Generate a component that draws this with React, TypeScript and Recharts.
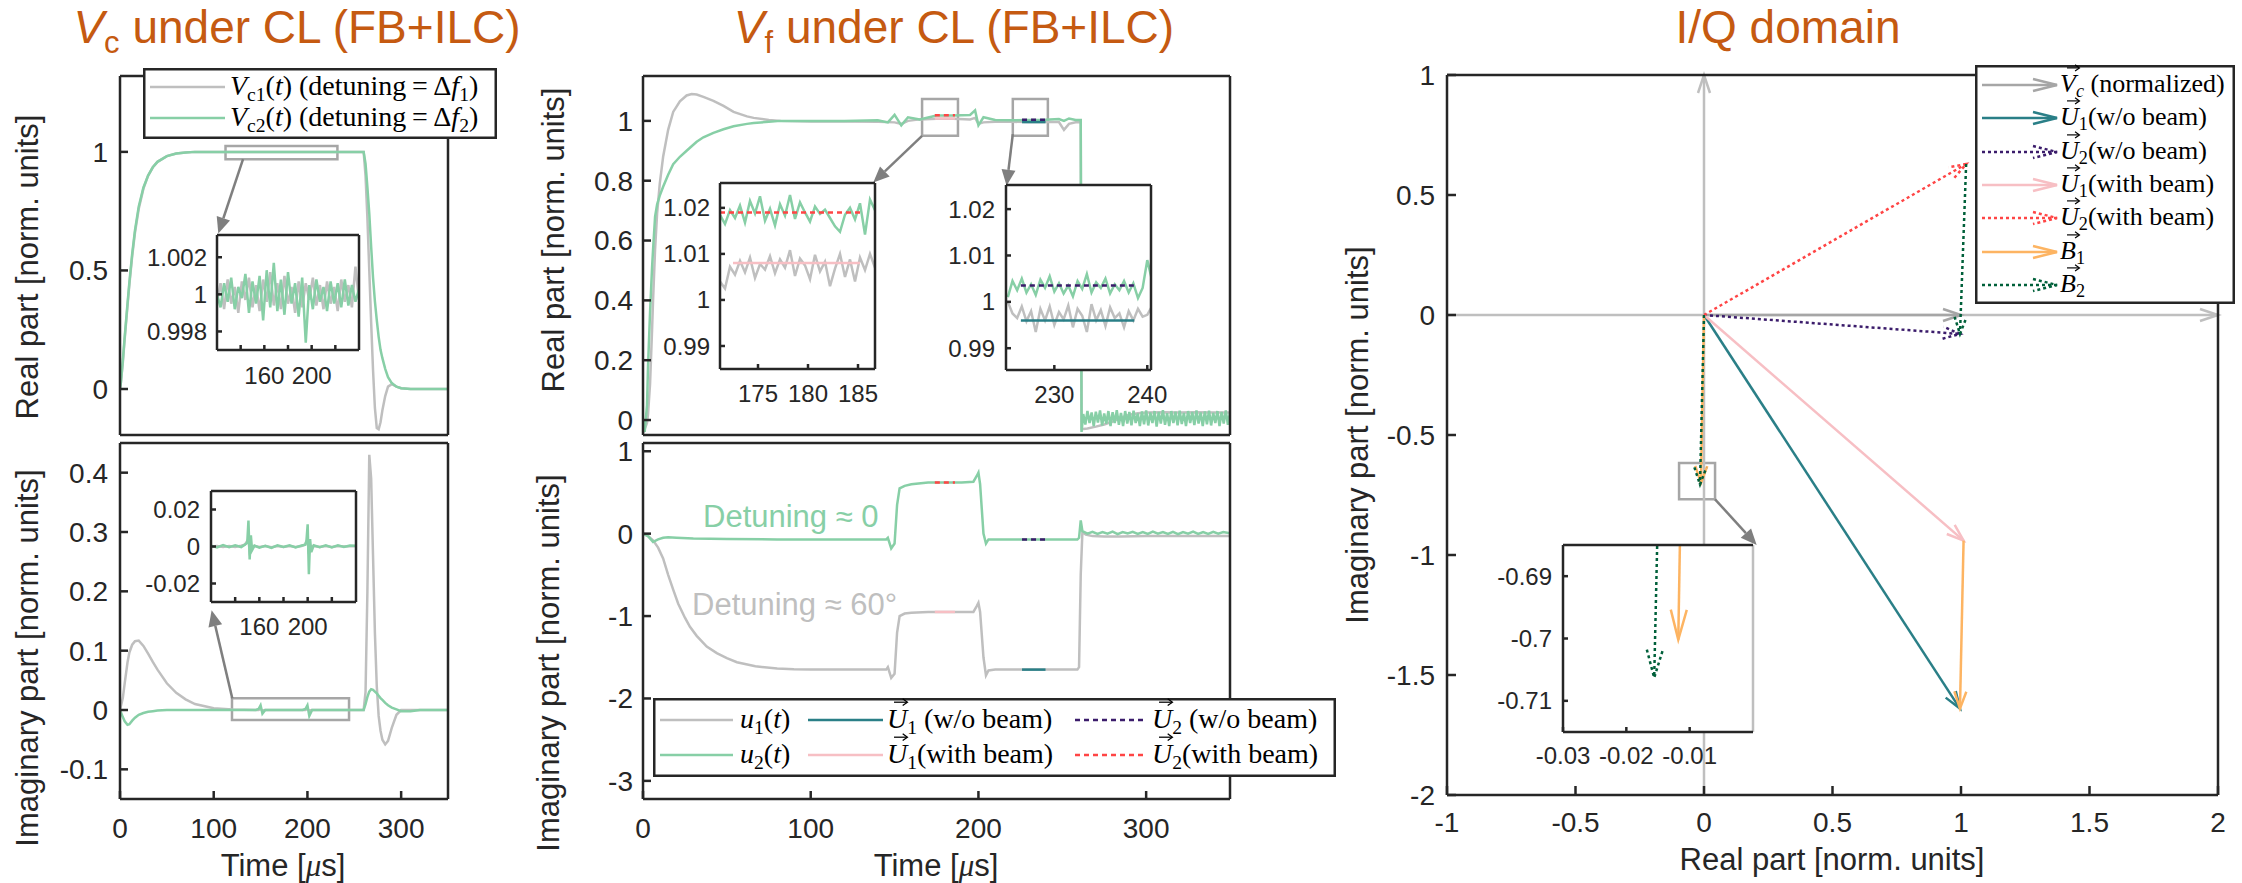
import React from "react";
import { LineChart, Line, XAxis, YAxis, ReferenceLine, ReferenceArea } from "recharts";

const INK = "#262626";
const SANS = "'Liberation Sans', Arial, Helvetica, sans-serif";
const SERIF = "'Liberation Serif', 'Times New Roman', serif";
const TITLE = "#C55A11";
const GREY = "#BFBFBF";
const GREEN = "#87CFA6";
const TEAL = "#2A7F87";
const PURPLE = "#3B1C6B";
const PINK = "#F7BFC4";
const RED = "#FF4545";
const ORANGE = "#FDB462";
const DKGREEN = "#00603A";
const VCGREY = "#A6A6A6";
const BOXGREY = "#A6A6A6";
const POINTER = "#7F7F7F";

// ---------- ticks ----------
const timeTicks = [0, 100, 200, 300];
const vcReTicks = [0, 0.5, 1];
const vcImTicks = [-0.1, 0, 0.1, 0.2, 0.3, 0.4];
const vfReTicks = [0, 0.2, 0.4, 0.6, 0.8, 1];
const uTicks = [-3, -2, -1, 0, 1];
const iqXTicks = [-1, -0.5, 0, 0.5, 1, 1.5, 2];
const iqYTicks = [-2, -1.5, -1, -0.5, 0, 0.5, 1];
const insTimeTicks = [140, 160, 180, 200, 220];
const insTimeLabels = [160, 200];
const insAYTicks = [0.998, 1, 1.002];
const insBYTicks = [-0.02, 0, 0.02];
const insC1XTicks = [175, 180, 185];
const insC2XTicks = [230, 240];
const insCYTicks = [0.99, 1, 1.01, 1.02];
const insEXTicks = [-0.03, -0.02, -0.01];
const insEYTicks = [-0.71, -0.7, -0.69];

// ---------- V_c real part ----------
const tA = [0, 1, 3, 5, 8, 10, 13, 16, 20, 25, 30, 35, 40, 50, 60, 70, 80, 100, 150, 200, 258, 260, 262, 264, 266, 268, 270, 272, 274, 276, 278, 280, 283, 286, 290, 295, 300, 310, 320, 350];
const vc1Re = [0, 0.03, 0.11, 0.21, 0.35, 0.44, 0.56, 0.66, 0.76, 0.845, 0.9, 0.935, 0.958, 0.982, 0.993, 0.997, 1, 1, 1, 1, 1, 1, 0.9, 0.72, 0.5, 0.28, 0.08, -0.08, -0.165, -0.17, -0.14, -0.09, -0.03, 0.01, 0.02, 0.01, 0.003, 0, 0, 0];
const vc2Re = [0, 0.03, 0.12, 0.22, 0.36, 0.45, 0.57, 0.67, 0.77, 0.85, 0.9, 0.935, 0.958, 0.982, 0.993, 0.997, 1, 1, 1, 1, 1, 1, 0.95, 0.85, 0.74, 0.6, 0.47, 0.37, 0.29, 0.22, 0.165, 0.13, 0.085, 0.05, 0.025, 0.01, 0.003, 0, 0, 0];

// ---------- V_c imaginary part ----------
const tB = [0, 3, 5, 8, 10, 13, 16, 20, 25, 30, 35, 40, 50, 60, 70, 80, 100, 120, 145, 148, 150, 152, 155, 195, 198, 200, 202, 205, 240, 258, 260, 262, 264, 266, 268, 270, 272, 274, 276, 278, 280, 283, 286, 290, 295, 300, 310, 320, 335, 350];
const vc1Im = [0, 0.02, 0.045, 0.08, 0.097, 0.11, 0.116, 0.117, 0.108, 0.095, 0.081, 0.068, 0.045, 0.029, 0.018, 0.01, 0.003, 0.001, 0, 0, 0.002, -0.001, 0, 0, 0, 0.002, -0.001, 0, 0, 0, 0, 0.03, 0.2, 0.43, 0.39, 0.26, 0.13, 0.04, -0.01, -0.035, -0.05, -0.058, -0.052, -0.03, -0.008, 0, 0, 0, 0, 0];
const vc2Im = [0, -0.012, -0.019, -0.025, -0.024, -0.018, -0.013, -0.008, -0.005, -0.003, -0.002, -0.001, 0, 0, 0, 0, 0, 0, 0, 0.002, 0.008, -0.006, 0, 0, 0.002, 0.008, -0.01, 0, 0, 0, 0, 0.01, 0.022, 0.031, 0.035, 0.034, 0.031, 0.028, 0.024, 0.02, 0.017, 0.012, 0.008, 0.004, 0.001, -0.002, -0.002, 0, 0, 0];

// ---------- V_c insets ----------
const tAi = [120, 123, 126, 129, 132, 135, 138, 141, 144, 147, 150, 153, 156, 159, 162, 165, 168, 171, 174, 177, 180, 183, 186, 189, 192, 195, 198, 201, 204, 207, 210, 213, 216, 219, 222, 225, 228, 231, 234, 237, 240];
const vc1ReZoom = [0.9996, 1.0006, 0.9992, 1.0008, 0.9995, 1.0004, 0.999, 1.0007, 0.9997, 1.0009, 0.9993, 1.0005, 0.9991, 1.0008, 0.9996, 1.0012, 0.9994, 1.0006, 0.9992, 1.001, 0.9995, 1.0004, 0.999, 1.0007, 0.9993, 1.0006, 0.9997, 1.0009, 0.9994, 1.0005, 0.9992, 1.0007, 0.9995, 1.0004, 0.9991, 1.0008, 0.9996, 1.0005, 0.9993, 1.0015, 0.9997];
const vc2ReZoom = [1.0, 0.9993, 1.0006, 0.9996, 1.0009, 0.9992, 1.0004, 0.9998, 1.0011, 0.999, 1.0007, 0.9995, 1.001, 0.9986, 1.0013, 0.9993, 1.0017, 0.9991, 1.0008, 0.9989, 1.0012, 0.9995, 1.0006, 0.9988, 1.0009, 0.9974, 1.0005, 0.9992, 1.0008, 0.9996, 1.0004, 0.9991, 1.0007, 0.9995, 1.0006, 0.9993, 1.0008, 0.9994, 1.0005, 0.9996, 1.0003];
const tBi = [120, 125, 130, 135, 140, 145, 148, 150, 151, 152, 153, 154, 156, 160, 165, 170, 175, 180, 185, 190, 195, 198, 199, 200, 201, 202, 203, 205, 210, 215, 220, 225, 230, 235, 240];
const vc1ImZoom = [0, 0.0003, -0.0003, 0.0002, -0.0002, 0.0004, 0.001, 0.003, 0.004, -0.003, -0.002, 0, 0.0002, -0.0003, 0.0002, -0.0004, 0.0003, -0.0002, 0.0003, -0.0002, 0.0003, 0.001, 0.003, 0.004, -0.004, -0.002, 0, 0.0002, -0.0003, 0.0002, -0.0002, 0.0003, 0, 0.0002, 0.0001];
const vc2ImZoom = [0.0005, -0.0005, 0.0008, -0.0004, 0.0006, -0.0003, 0.001, 0.002, 0.014, -0.007, 0.006, -0.002, 0.0005, -0.0006, 0.0004, -0.0008, 0.0006, -0.0002, 0.0007, -0.0005, 0.0005, 0.001, 0.003, 0.012, -0.015, 0.004, -0.003, 0.0006, -0.0004, 0.0007, -0.0005, 0.0006, -0.0003, 0.0005, 0.0004];

// ---------- V_f real part ----------
const tC1 = [0, 1, 2.4, 3, 4.2, 5.4, 6, 7.2, 8.4, 10, 12, 15, 18, 22, 26, 29, 32, 36, 42, 48, 54, 62, 66, 75, 82, 100, 120, 140, 150, 154, 158, 165, 175, 185, 195, 198, 200, 203, 210, 220, 230, 240, 248, 251, 254, 258, 261, 261.5, 262.5, 265, 270, 275, 280, 285, 290, 295, 300, 310, 320, 330, 340, 350];
const vf1Re = [0, -0.03, -0.01, 0.02, 0.12, 0.3, 0.4, 0.57, 0.69, 0.79, 0.88, 0.97, 1.03, 1.065, 1.085, 1.09, 1.088, 1.08, 1.067, 1.05, 1.03, 1.015, 1.01, 1.003, 1, 0.998, 0.998, 0.997, 0.995, 0.99, 1, 1.005, 1.007, 1.007, 1.005, 1.01, 0.99, 0.995, 0.997, 0.997, 0.996, 0.996, 0.996, 0.97, 0.99, 0.995, 0.995, -0.03, -0.03, -0.028, -0.022, -0.015, -0.005, 0.008, 0.018, 0.023, 0.025, 0.026, 0.025, 0.026, 0.025, 0.025];
const tC2 = [0, 1, 2.4, 3, 4.2, 5.4, 6, 7.2, 8.4, 10, 12, 15, 18, 22, 26, 29, 32, 36, 42, 48, 54, 62, 66, 75, 82, 100, 120, 140, 146, 150, 154, 158, 165, 175, 185, 195, 198, 200, 203, 210, 220, 230, 240, 248, 251, 254, 258, 261, 261.5,
  262.5, 263.75, 265, 266.25, 267.5, 268.75, 270, 271.25, 272.5, 273.75, 275, 276.25, 277.5, 278.75, 280, 281.25, 282.5, 283.75, 285, 286.25, 287.5, 288.75, 290, 291.25, 292.5, 293.75, 295, 296.25, 297.5, 298.75, 300, 301.25, 302.5, 303.75, 305, 306.25, 307.5, 308.75, 310, 311.25, 312.5, 313.75, 315, 316.25, 317.5, 318.75, 320, 321.25, 322.5, 323.75, 325, 326.25, 327.5, 328.75, 330, 331.25, 332.5, 333.75, 335, 336.25, 337.5, 338.75, 340, 341.25, 342.5, 343.75, 345, 346.25, 347.5, 348.75, 350];
const vf2Re = [0, -0.04, 0.05, 0.18, 0.36, 0.51, 0.57, 0.68, 0.72, 0.75, 0.78, 0.82, 0.855, 0.88, 0.9, 0.915, 0.93, 0.945, 0.96, 0.972, 0.982, 0.99, 0.993, 0.997, 1, 1, 1, 1.002, 0.995, 1.02, 0.985, 1.012, 1.005, 1.018, 1.018, 1.02, 1.035, 0.985, 1.012, 1.003, 1.002, 1.003, 1.004, 1.006, 1, 1.008, 1.003, 1.003, -0.04,
  0.02, -0.015, 0.03, -0.01, 0.025, -0.02, 0.028, -0.008, 0.032, -0.018, 0.022, -0.012, 0.03, -0.02, 0.026, -0.01, 0.033, -0.016, 0.024, -0.02, 0.03, -0.012, 0.027, -0.018, 0.031, -0.01, 0.022, -0.02, 0.029, -0.014, 0.032, -0.018, 0.025, -0.01, 0.03, -0.022, 0.027, -0.012, 0.033, -0.016, 0.023, -0.02, 0.03, -0.01, 0.028, -0.018, 0.031, -0.013, 0.024, -0.02, 0.03, -0.01, 0.027, -0.017, 0.032, -0.012, 0.025, -0.02, 0.029, -0.014, 0.031, -0.018, 0.024, -0.01, 0.03, -0.02, 0.027, -0.012, 0.032, -0.016, 0.025];

// beam windows and ILC input levels
const beamOn = [174, 186];
const beamOff = [226, 240];
const vfU1With = [1.008, 1.008];
const vfU2With = [1.019, 1.019];
const vfU1Without = [0.996, 0.996];
const vfU2Without = [1.0035, 1.0035];

// ---------- V_f insets ----------
const tC1i = [171.2, 171.7, 172.2, 172.7, 173.2, 173.7, 174.2, 174.7, 175.2, 175.7, 176.2, 176.7, 177.2, 177.7, 178.2, 178.7, 179.2, 179.7, 180.2, 180.7, 181.2, 181.7, 182.2, 182.7, 183.2, 183.7, 184.2, 184.7, 185.2, 185.7, 186.2, 186.7];
const vf1ReZoomOn = [1.004, 1.0025, 1.0072, 1.0055, 1.0085, 1.006, 1.0092, 1.0048, 1.0078, 1.0066, 1.0095, 1.0058, 1.0088, 1.007, 1.0108, 1.0052, 1.009, 1.0075, 1.0045, 1.0098, 1.0062, 1.0083, 1.003, 1.0068, 1.01, 1.005, 1.0088, 1.004, 1.0092, 1.0065, 1.01, 1.007];
const vf2ReZoomOn = [1.0185, 1.0165, 1.0195, 1.0178, 1.0205, 1.0168, 1.0215, 1.0188, 1.0225, 1.0172, 1.0198, 1.0162, 1.0208, 1.0183, 1.0228, 1.0176, 1.0212, 1.019, 1.017, 1.0203, 1.0187, 1.0196, 1.0178, 1.016, 1.0148, 1.0185, 1.02, 1.0175, 1.021, 1.0142, 1.0218, 1.0195];
const zoomOnRed = [171.2, 185.2];
const zoomOnPink = [172.5, 185.2];
const tC2i = [225, 225.5, 226, 226.5, 227, 227.5, 228, 228.5, 229, 229.5, 230, 230.5, 231, 231.5, 232, 232.5, 233, 233.5, 234, 234.5, 235, 235.5, 236, 236.5, 237, 237.5, 238, 238.5, 239, 239.5, 240, 240.5];
const vf1ReZoomOff = [1.0, 0.9975, 0.9965, 0.999, 0.9958, 0.998, 0.9935, 0.9985, 0.996, 0.999, 0.995, 0.9978, 0.9962, 0.9992, 0.9945, 0.9985, 0.997, 0.9935, 0.9995, 0.996, 0.9982, 0.9948, 0.9988, 0.9965, 0.9975, 0.9945, 0.998, 0.996, 0.9985, 0.9968, 0.9972, 0.999];
const vf2ReZoomOff = [1.001, 1.0045, 1.0025, 1.005, 1.002, 1.0038, 1.0015, 1.0048, 1.003, 1.0055, 1.0022, 1.004, 1.0018, 1.0035, 1.0012, 1.0045, 1.0028, 1.006, 1.002, 1.0042, 1.003, 1.005, 1.0018, 1.0038, 1.0025, 1.0045, 1.002, 1.004, 1.0008, 1.003, 1.009, 1.0048];
const zoomOffSpan = [226.4, 238.6];

// ---------- drive signal u (imaginary part) ----------
const tD1 = [0, 3, 6, 9, 12, 15, 18, 21, 25, 28, 32, 38, 44, 50, 56, 67, 80, 90, 100, 120, 145, 146, 148, 150, 151.5, 153, 156, 160, 170, 190, 197, 199, 200, 201, 203, 204.5, 206, 210, 230, 250, 259, 260, 261, 262, 264, 268, 275, 285, 300, 320, 350];
const u1Im = [0, -0.03, -0.08, -0.17, -0.3, -0.5, -0.68, -0.85, -1.02, -1.13, -1.24, -1.37, -1.45, -1.51, -1.56, -1.61, -1.635, -1.645, -1.65, -1.65, -1.65, -1.62, -1.75, -1.7, -1.2, -1.0, -0.97, -0.96, -0.95, -0.95, -0.95, -0.88, -0.84, -0.95, -1.5, -1.72, -1.66, -1.65, -1.65, -1.65, -1.65, -1.62, -0.5, 0.02, -0.01, -0.03, -0.035, -0.035, -0.03, -0.03, -0.03];
const tD2 = [0, 3, 6, 9, 12, 15, 20, 30, 50, 80, 120, 145, 146, 148, 150, 151.5, 153, 156, 160, 170, 190, 197, 199, 200, 201, 203, 204.5, 206, 210, 230, 250, 259, 260, 261, 262, 265, 268, 271, 274, 277, 280, 283, 286, 289, 292, 295, 298, 301, 304, 307, 310, 313, 316, 319, 322, 325, 328, 331, 334, 337, 340, 343, 346, 350];
const u2Im = [0, -0.03, -0.1, -0.07, -0.05, -0.045, -0.05, -0.06, -0.065, -0.07, -0.07, -0.07, -0.05, -0.18, -0.12, 0.35, 0.55, 0.58, 0.6, 0.62, 0.62, 0.63, 0.7, 0.74, 0.6, 0, -0.12, -0.07, -0.07, -0.07, -0.07, -0.07, -0.05, 0.16,
  0.03, 0, 0.022, -0.004, 0.02, 0, 0.024, -0.006, 0.02, 0.002, 0.022, -0.004, 0.02, -0.002, 0.024, 0, 0.02, -0.004, 0.022, -0.006, 0.02, 0, 0.024, -0.004, 0.02, -0.002, 0.022, 0, 0.02, 0.005];
const uU1With = [-0.95, -0.95];
const uU2With = [0.62, 0.62];
const uU1Without = [-1.65, -1.65];
const uU2Without = [-0.07, -0.07];

// ---------- I/Q vectors [x0, y0, x1, y1] ----------
const iqAxisI = [-1, 0, 2, 0];
const iqAxisQ = [0, -2, 0, 1];
const vcVec = [0, 0, 1, 0];
const u1NoBeam = [0, 0, 0.996, -1.64];
const u2NoBeam = [0, 0, 0.996, -0.079];
const u1Beam = [0, 0, 1.01, -0.94];
const u2Beam = [0, 0, 1.02, 0.629];
const b1Vec = [0, 0, -0.0118, -0.7002];
const b2Vec = [0, 0, -0.0156, -0.7063];
const b1Shift = [1.01, -0.94, 0.996, -1.64];
const b2Shift = [1.02, 0.629, 0.996, -0.079];

// ---------- zoom boxes [x1, x2, y1, y2] and pointers [x0, y0, x1, y1] ----------
const zoomA = [112.6, 232, 0.969, 1.025];
const ptrA = [131.3, 0.969, 104.9, 0.656];
const zoomB = [119.5, 244.4, -0.017, 0.02];
const ptrB = [119.8, 0.0196, 97.8, 0.168];
const zoomC1 = [166.4, 187.8, 0.95, 1.073];
const ptrC1 = [166.4, 0.95, 137.3, 0.794];
const zoomC2 = [220.5, 241.4, 0.95, 1.073];
const ptrC2 = [220.5, 0.956, 216.8, 0.783];
const zoomE = [-0.097, 0.043, -0.768, -0.617];
const ptrE = [0.043, -0.768, 0.205, -0.958];

const zip = (t: number[], v: number[]) => t.map((x, i) => ({ t: x, v: v[i] }));
const seg = (s: number[]) => [{ x: s[0], y: s[1] }, { x: s[2], y: s[3] }] as any;

const openArrow = (head: number, half: number) => (p: any) => {
  const { x1, y1, x2, y2, stroke, strokeWidth, strokeDasharray, clipPath } = p;
  const dx = x2 - x1, dy = y2 - y1;
  const L = Math.hypot(dx, dy) || 1;
  const ux = dx / L, uy = dy / L;
  const bx = x2 - ux * head, by = y2 - uy * head;
  return (
    <g clipPath={clipPath}>
      <line x1={x1} y1={y1} x2={x2} y2={y2} stroke={stroke} strokeWidth={strokeWidth} strokeDasharray={strokeDasharray} />
      <polyline points={`${bx - uy * half},${by + ux * half} ${x2},${y2} ${bx + uy * half},${by - ux * half}`} fill="none" stroke={stroke} strokeWidth={strokeWidth} strokeDasharray={strokeDasharray} />
    </g>
  );
};

const pointer = (p: any) => {
  const { x1, y1, x2, y2 } = p;
  const dx = x2 - x1, dy = y2 - y1;
  const L = Math.hypot(dx, dy) || 1;
  const ux = dx / L, uy = dy / L;
  const head = 16, half = 7;
  const bx = x2 - ux * head, by = y2 - uy * head;
  return (
    <g>
      <line x1={x1} y1={y1} x2={bx} y2={by} stroke={POINTER} strokeWidth={2.5} />
      <polygon points={`${bx - uy * half},${by + ux * half} ${x2},${y2} ${bx + uy * half},${by - ux * half}`} fill={POINTER} />
    </g>
  );
};

type Frame = {
  x: number; y: number; w: number; h: number;
  xd: number[]; yd: number[];
  xt: number[]; yt: number[];
  xl: number[] | null; yl: number[] | null;
  fs: number; tl: number; xm: number; ym: number;
  pad: { top: number; right: number; bottom: number; left: number };
  inset?: boolean; noRightLine?: boolean;
};

const MAINPAD = { top: 20, right: 20, bottom: 60, left: 115 };
const INSPAD = { top: 10, right: 34, bottom: 45, left: 90 };

function Panel({ f, children }: { f: Frame; children?: React.ReactNode }) {
  const W = f.w + f.pad.left + f.pad.right;
  const H = f.h + f.pad.top + f.pad.bottom;
  // axes take 1px each, so the margins shrink by 1 to keep the plot box in place
  const margin = { top: f.pad.top - 1, right: f.pad.right - 1, bottom: f.pad.bottom - 1, left: f.pad.left - 1 };
  const tick = { fill: INK, fontSize: f.fs, fontFamily: SANS };
  const fmt = (l: number[] | null) => (v: number) => (l && l.includes(v) ? String(v) : "");
  const ax: any = { type: "number", allowDataOverflow: true, interval: 0, stroke: INK, strokeWidth: 2.5, tickSize: -f.tl };
  return (
    <>
      {f.inset && <div style={{ position: "absolute", left: f.x, top: f.y, width: f.w, height: f.h, background: "#fff" }} />}
      <div style={{ position: "absolute", left: f.x - f.pad.left, top: f.y - f.pad.top }}>
        <LineChart width={W} height={H} margin={margin}>
          <XAxis {...ax} dataKey="t" domain={f.xd} ticks={f.xt} height={1} tickMargin={f.xm} tick={f.xl ? tick : false} tickFormatter={fmt(f.xl)} />
          <XAxis {...ax} xAxisId="top" orientation="top" dataKey="t" domain={f.xd} ticks={f.xt} height={1} tick={false} />
          <YAxis {...ax} dataKey="v" domain={f.yd} ticks={f.yt} width={1} tickMargin={f.ym} tick={f.yl ? tick : false} tickFormatter={fmt(f.yl)} />
          <YAxis {...ax} yAxisId="right" orientation="right" dataKey="v" domain={f.yd} ticks={f.yt} width={1} tick={false} axisLine={!f.noRightLine} />
          {children}
        </LineChart>
      </div>
    </>
  );
}

const frameA: Frame = { x: 120, y: 76, w: 328, h: 359, xd: [0, 350], yd: [-0.194, 1.32], xt: timeTicks, yt: vcReTicks, xl: null, yl: vcReTicks, fs: 28, tl: 8, xm: 27, ym: 20, pad: MAINPAD };
const frameB: Frame = { x: 120, y: 443, w: 328, h: 356, xd: [0, 350], yd: [-0.15, 0.45], xt: timeTicks, yt: vcImTicks, xl: timeTicks, yl: vcImTicks, fs: 28, tl: 8, xm: 27, ym: 20, pad: MAINPAD };
const frameC: Frame = { x: 643, y: 76, w: 587, h: 359, xd: [0, 350], yd: [-0.05, 1.15], xt: timeTicks, yt: vfReTicks, xl: null, yl: vfReTicks, fs: 28, tl: 8, xm: 27, ym: 18, pad: MAINPAD };
const frameD: Frame = { x: 643, y: 443, w: 587, h: 356, xd: [0, 350], yd: [-3.22, 1.1], xt: timeTicks, yt: uTicks, xl: timeTicks, yl: uTicks, fs: 28, tl: 8, xm: 27, ym: 18, pad: MAINPAD };
const frameE: Frame = { x: 1447, y: 75, w: 771, h: 720, xd: [-1, 2], yd: [-2, 1], xt: iqXTicks, yt: iqYTicks, xl: iqXTicks, yl: iqYTicks, fs: 28, tl: 9, xm: 26, ym: 21, pad: MAINPAD };
const frameAi: Frame = { x: 217, y: 235, w: 142, h: 115, xd: [120, 240], yd: [0.997, 1.0032], xt: insTimeTicks, yt: insAYTicks, xl: insTimeLabels, yl: insAYTicks, fs: 24, tl: 5, xm: 21.5, ym: 15, pad: INSPAD, inset: true };
const frameBi: Frame = { x: 211, y: 491, w: 145, h: 111, xd: [120, 240], yd: [-0.03, 0.03], xt: insTimeTicks, yt: insBYTicks, xl: insTimeLabels, yl: insBYTicks, fs: 24, tl: 5, xm: 20.5, ym: 16, pad: INSPAD, inset: true };
const frameC1i: Frame = { x: 720, y: 183, w: 155, h: 186, xd: [171.2, 186.7], yd: [0.985, 1.0254], xt: insC1XTicks, yt: insCYTicks, xl: insC1XTicks, yl: insCYTicks, fs: 24, tl: 5, xm: 20.5, ym: 15, pad: INSPAD, inset: true };
const frameC2i: Frame = { x: 1006, y: 185, w: 145, h: 185, xd: [224.8, 240.4], yd: [0.9853, 1.0252], xt: insC2XTicks, yt: insCYTicks, xl: insC2XTicks, yl: insCYTicks, fs: 24, tl: 5, xm: 20.5, ym: 16, pad: INSPAD, inset: true };
const frameEi: Frame = { x: 1563, y: 545, w: 190, h: 187, xd: [-0.03, 0], yd: [-0.715, -0.685], xt: insEXTicks, yt: insEYTicks, xl: insEXTicks, yl: insEYTicks, fs: 24, tl: 5, xm: 19.5, ym: 16, pad: INSPAD, inset: true, noRightLine: true };

const lp = { dataKey: "v", dot: false, activeDot: false, isAnimationActive: false, type: "linear" as const, strokeWidth: 2.5 };

function Swatch({ x0, x1, y, color, dash, arrow }: { x0: number; x1: number; y: number; color: string; dash?: string; arrow?: boolean }) {
  const w = x1 - x0;
  return (
    <svg style={{ position: "absolute", left: x0, top: y - 12 }} width={w + 4} height={24}>
      <line x1={0} y1={12} x2={w} y2={12} stroke={color} strokeWidth={2.5} strokeDasharray={dash} />
      {arrow && <polyline points={`${w - 24},6 ${w},12 ${w - 24},18`} fill="none" stroke={color} strokeWidth={2.5} strokeDasharray={dash} />}
    </svg>
  );
}

function LegText({ x, y, size, children }: { x: number; y: number; size: number; children: React.ReactNode }) {
  return (
    <div style={{ position: "absolute", left: x, top: y - size * 0.6, fontFamily: SERIF, fontSize: size, lineHeight: `${size * 1.15}px`, whiteSpace: "nowrap", color: "#000" }}>
      {children}
    </div>
  );
}

const Sub = ({ children, it }: { children: React.ReactNode; it?: boolean }) => (
  <span style={{ fontSize: "0.7em", position: "relative", top: "0.28em", fontStyle: it ? "italic" : "normal" }}>{children}</span>
);
// letter with a small vector arrow drawn above it
const Vec = ({ c }: { c: string }) => (
  <span style={{ position: "relative", display: "inline-block" }}>
    <i>{c}</i>
    <svg viewBox="0 0 10 6" style={{ position: "absolute", left: "0.26em", top: "-0.2em", width: "0.5em", height: "0.3em", overflow: "visible" }}>
      <line x1={0} y1={3} x2={9.2} y2={3} stroke="#000" strokeWidth={0.9} />
      <polyline points="6.2,0.6 9.6,3 6.2,5.4" fill="none" stroke="#000" strokeWidth={0.9} />
    </svg>
  </span>
);

function LegendBox({ left, top, width, height, children }: { left: number; top: number; width: number; height: number; children: React.ReactNode }) {
  return (
    <div style={{ position: "absolute", left, top, width, height, background: "#fff", boxShadow: `inset 0 0 0 2.5px ${INK}` }}>{children}</div>
  );
}

export default function App() {
  return (
    <div style={{ position: "absolute", left: 0, top: 0, width: 2242, height: 883, background: "#fff", overflow: "hidden" }}>
      {/* V_c real */}
      <Panel f={frameA}>
        <Line {...lp} data={zip(tA, vc1Re)} stroke={GREY} />
        <Line {...lp} data={zip(tA, vc2Re)} stroke={GREEN} />
        <ReferenceArea x1={zoomA[0]} x2={zoomA[1]} y1={zoomA[2]} y2={zoomA[3]} fill="none" stroke={BOXGREY} strokeWidth={2.5} ifOverflow="visible" />
        <ReferenceLine segment={seg(ptrA)} ifOverflow="visible" shape={pointer} />
      </Panel>
      {/* V_c imaginary */}
      <Panel f={frameB}>
        <Line {...lp} data={zip(tB, vc1Im)} stroke={GREY} />
        <Line {...lp} data={zip(tB, vc2Im)} stroke={GREEN} />
        <ReferenceArea x1={zoomB[0]} x2={zoomB[1]} y1={zoomB[2]} y2={zoomB[3]} fill="none" stroke={BOXGREY} strokeWidth={2.5} ifOverflow="visible" />
        <ReferenceLine segment={seg(ptrB)} ifOverflow="visible" shape={pointer} />
      </Panel>
      {/* V_f real */}
      <Panel f={frameC}>
        <Line {...lp} data={zip(tC1, vf1Re)} stroke={GREY} />
        <Line {...lp} data={zip(tC2, vf2Re)} stroke={GREEN} />
        <Line {...lp} data={zip(beamOn, vfU1With)} stroke={PINK} />
        <Line {...lp} data={zip(beamOn, vfU2With)} stroke={RED} strokeDasharray="5 4" />
        <Line {...lp} data={zip(beamOff, vfU1Without)} stroke={TEAL} />
        <Line {...lp} data={zip(beamOff, vfU2Without)} stroke={PURPLE} strokeDasharray="5 4" />
        <ReferenceArea x1={zoomC1[0]} x2={zoomC1[1]} y1={zoomC1[2]} y2={zoomC1[3]} fill="none" stroke={BOXGREY} strokeWidth={2.5} ifOverflow="visible" />
        <ReferenceArea x1={zoomC2[0]} x2={zoomC2[1]} y1={zoomC2[2]} y2={zoomC2[3]} fill="none" stroke={BOXGREY} strokeWidth={2.5} ifOverflow="visible" />
        <ReferenceLine segment={seg(ptrC1)} ifOverflow="visible" shape={pointer} />
        <ReferenceLine segment={seg(ptrC2)} ifOverflow="visible" shape={pointer} />
      </Panel>
      {/* u imaginary */}
      <Panel f={frameD}>
        <Line {...lp} data={zip(tD1, u1Im)} stroke={GREY} />
        <Line {...lp} data={zip(tD2, u2Im)} stroke={GREEN} />
        <Line {...lp} data={zip(beamOn, uU1With)} stroke={PINK} />
        <Line {...lp} data={zip(beamOn, uU2With)} stroke={RED} strokeDasharray="5 4" />
        <Line {...lp} data={zip(beamOff, uU1Without)} stroke={TEAL} />
        <Line {...lp} data={zip(beamOff, uU2Without)} stroke={PURPLE} strokeDasharray="5 4" />
      </Panel>
      {/* I/Q */}
      <Panel f={frameE}>
        <ReferenceLine segment={seg(iqAxisI)} stroke={GREY} strokeWidth={2.5} ifOverflow="visible" shape={openArrow(18, 6)} />
        <ReferenceLine segment={seg(iqAxisQ)} stroke={GREY} strokeWidth={2.5} ifOverflow="visible" shape={openArrow(18, 6)} />
        <ReferenceLine segment={seg(vcVec)} stroke={VCGREY} strokeWidth={2.5} ifOverflow="visible" shape={openArrow(18, 6)} />
        <ReferenceLine segment={seg(u1NoBeam)} stroke={TEAL} strokeWidth={2.5} ifOverflow="visible" shape={openArrow(17, 6)} />
        <ReferenceLine segment={seg(u2NoBeam)} stroke={PURPLE} strokeWidth={2.5} strokeDasharray="3 3" ifOverflow="visible" shape={openArrow(17, 6)} />
        <ReferenceLine segment={seg(u1Beam)} stroke={PINK} strokeWidth={2.5} ifOverflow="visible" shape={openArrow(17, 6)} />
        <ReferenceLine segment={seg(u2Beam)} stroke={RED} strokeWidth={2.5} strokeDasharray="3 3" ifOverflow="visible" shape={openArrow(17, 6)} />
        <ReferenceLine segment={seg(b1Shift)} stroke={ORANGE} strokeWidth={2.5} ifOverflow="visible" shape={openArrow(17, 6)} />
        <ReferenceLine segment={seg(b2Shift)} stroke={DKGREEN} strokeWidth={2.5} strokeDasharray="3 3" ifOverflow="visible" shape={openArrow(17, 6)} />
        <ReferenceLine segment={seg(b1Vec)} stroke={ORANGE} strokeWidth={2.5} ifOverflow="visible" shape={openArrow(17, 6)} />
        <ReferenceLine segment={seg(b2Vec)} stroke={DKGREEN} strokeWidth={2.5} strokeDasharray="3 3" ifOverflow="visible" shape={openArrow(17, 6)} />
        <ReferenceArea x1={zoomE[0]} x2={zoomE[1]} y1={zoomE[2]} y2={zoomE[3]} fill="none" stroke={BOXGREY} strokeWidth={2.5} ifOverflow="visible" />
        <ReferenceLine segment={seg(ptrE)} ifOverflow="visible" shape={pointer} />
      </Panel>

      {/* insets */}
      <Panel f={frameAi}>
        <Line {...lp} data={zip(tAi, vc1ReZoom)} stroke={GREY} />
        <Line {...lp} data={zip(tAi, vc2ReZoom)} stroke={GREEN} />
      </Panel>
      <Panel f={frameBi}>
        <Line {...lp} data={zip(tBi, vc1ImZoom)} stroke={GREY} />
        <Line {...lp} data={zip(tBi, vc2ImZoom)} stroke={GREEN} />
      </Panel>
      <Panel f={frameC1i}>
        <Line {...lp} data={zip(tC1i, vf1ReZoomOn)} stroke={GREY} />
        <Line {...lp} data={zip(tC1i, vf2ReZoomOn)} stroke={GREEN} />
        <Line {...lp} data={zip(zoomOnPink, vfU1With)} stroke={PINK} />
        <Line {...lp} data={zip(zoomOnRed, vfU2With)} stroke={RED} strokeDasharray="5 4" />
      </Panel>
      <Panel f={frameC2i}>
        <Line {...lp} data={zip(tC2i, vf1ReZoomOff)} stroke={GREY} />
        <Line {...lp} data={zip(tC2i, vf2ReZoomOff)} stroke={GREEN} />
        <Line {...lp} data={zip(zoomOffSpan, vfU1Without)} stroke={TEAL} />
        <Line {...lp} data={zip(zoomOffSpan, vfU2Without)} stroke={PURPLE} strokeDasharray="5 4" />
      </Panel>
      <Panel f={frameEi}>
        <ReferenceLine x={0} stroke={GREY} strokeWidth={2.5} ifOverflow="visible" />
        <ReferenceLine segment={seg(b1Vec)} stroke={ORANGE} strokeWidth={2.5} ifOverflow="hidden" shape={openArrow(30, 8)} />
        <ReferenceLine segment={seg(b2Vec)} stroke={DKGREEN} strokeWidth={2.5} strokeDasharray="3 3" ifOverflow="hidden" shape={openArrow(28, 8)} />
      </Panel>

      {/* legends */}
      <LegendBox left={143} top={68} width={354} height={71}>
        <Swatch x0={7} x1={82} y={19} color={GREY} />
        <LegText x={87} y={19} size={28}><i>V</i><Sub>c1</Sub>(<i>t</i>) (detuning<span style={{ margin: "0 0.2em" }}>=</span>Δ<i>f</i><Sub>1</Sub>)</LegText>
        <Swatch x0={7} x1={82} y={50} color={GREEN} />
        <LegText x={87} y={50} size={28}><i>V</i><Sub>c2</Sub>(<i>t</i>) (detuning<span style={{ margin: "0 0.2em" }}>=</span>Δ<i>f</i><Sub>2</Sub>)</LegText>
      </LegendBox>

      <LegendBox left={653} top={698} width={683} height={79}>
        <Swatch x0={7} x1={80} y={22} color={GREY} />
        <LegText x={87} y={22} size={28}><i>u</i><Sub>1</Sub>(<i>t</i>)</LegText>
        <Swatch x0={7} x1={80} y={57} color={GREEN} />
        <LegText x={87} y={57} size={28}><i>u</i><Sub>2</Sub>(<i>t</i>)</LegText>
        <Swatch x0={155} x1={230} y={22} color={TEAL} />
        <LegText x={234} y={22} size={28}><Vec c="U" /><Sub>1</Sub> (w/o beam)</LegText>
        <Swatch x0={155} x1={230} y={57} color={PINK} />
        <LegText x={234} y={57} size={28}><Vec c="U" /><Sub>1</Sub>(with beam)</LegText>
        <Swatch x0={422} x1={494} y={22} color={PURPLE} dash="5 4" />
        <LegText x={499} y={22} size={28}><Vec c="U" /><Sub>2</Sub> (w/o beam)</LegText>
        <Swatch x0={422} x1={494} y={57} color={RED} dash="5 4" />
        <LegText x={499} y={57} size={28}><Vec c="U" /><Sub>2</Sub>(with beam)</LegText>
      </LegendBox>

      <LegendBox left={1975} top={65} width={260} height={239}>
        <Swatch x0={7} x1={82} y={20} color={VCGREY} arrow />
        <LegText x={85} y={20} size={26}><Vec c="V" /><Sub it>c</Sub> (normalized)</LegText>
        <Swatch x0={7} x1={82} y={53} color={TEAL} arrow />
        <LegText x={85} y={53} size={26}><Vec c="U" /><Sub>1</Sub>(w/o beam)</LegText>
        <Swatch x0={7} x1={82} y={87} color={PURPLE} dash="3 3" arrow />
        <LegText x={85} y={87} size={26}><Vec c="U" /><Sub>2</Sub>(w/o beam)</LegText>
        <Swatch x0={7} x1={82} y={120} color={PINK} arrow />
        <LegText x={85} y={120} size={26}><Vec c="U" /><Sub>1</Sub>(with beam)</LegText>
        <Swatch x0={7} x1={82} y={153} color={RED} dash="3 3" arrow />
        <LegText x={85} y={153} size={26}><Vec c="U" /><Sub>2</Sub>(with beam)</LegText>
        <Swatch x0={7} x1={82} y={187} color={ORANGE} arrow />
        <LegText x={85} y={187} size={26}><Vec c="B" /><Sub>1</Sub></LegText>
        <Swatch x0={7} x1={82} y={220} color={DKGREEN} dash="3 3" arrow />
        <LegText x={85} y={220} size={26}><Vec c="B" /><Sub>2</Sub></LegText>
      </LegendBox>

      {/* titles, axis labels, annotations */}
      <svg width={2242} height={883} style={{ position: "absolute", left: 0, top: 0, pointerEvents: "none" }}>
        <g fontFamily={SANS} fill={TITLE} fontSize={46}>
          <text x={297} y={43} textAnchor="middle">
            <tspan fontStyle="italic">V</tspan><tspan fontSize={31} dy={10}>c</tspan><tspan dy={-10}> under CL (FB+ILC)</tspan>
          </text>
          <text x={954} y={43} textAnchor="middle">
            <tspan fontStyle="italic">V</tspan><tspan fontSize={31} dy={10}>f</tspan><tspan dy={-10}> under CL (FB+ILC)</tspan>
          </text>
          <text x={1788} y={43} textAnchor="middle">I/Q domain</text>
        </g>
        <g fontFamily={SANS} fill={INK} fontSize={31}>
          <text transform="translate(38,267) rotate(-90)" textAnchor="middle">Real part [norm. units]</text>
          <text transform="translate(38,658) rotate(-90)" textAnchor="middle">Imaginary part [norm. units]</text>
          <text transform="translate(564,240) rotate(-90)" textAnchor="middle">Real part [norm. units]</text>
          <text transform="translate(559,663) rotate(-90)" textAnchor="middle">Imaginary part [norm. units]</text>
          <text transform="translate(1368,435) rotate(-90)" textAnchor="middle">Imaginary part [norm. units]</text>
          <text x={283} y={876} textAnchor="middle">Time [<tspan fontFamily={SERIF} fontStyle="italic">μ</tspan>s]</text>
          <text x={936} y={876} textAnchor="middle">Time [<tspan fontFamily={SERIF} fontStyle="italic">μ</tspan>s]</text>
          <text x={1832} y={870} textAnchor="middle">Real part [norm. units]</text>
        </g>
        <g fontFamily={SANS} fontSize={31}>
          <text x={703} y={527} fill={GREEN}>Detuning ≈ 0</text>
          <text x={692} y={615} fill={GREY}>Detuning ≈ 60°</text>
        </g>
      </svg>
    </div>
  );
}
